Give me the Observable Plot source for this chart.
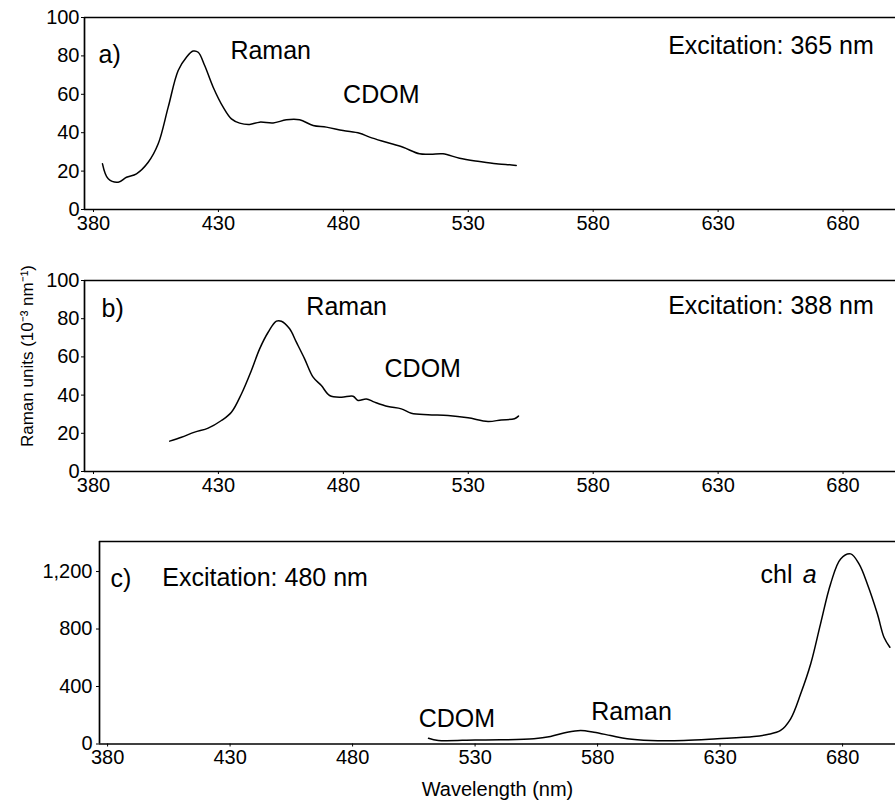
<!DOCTYPE html>
<html><head><meta charset="utf-8">
<script src="https://cdn.jsdelivr.net/npm/d3@7"></script>
<script src="https://cdn.jsdelivr.net/npm/@observablehq/plot@0.6"></script>
<style>body{margin:0;background:#fff} #chart svg{display:block}</style>
</head><body><div id="chart"></div>
<script>
// ---- data ----
const xTicks = [380, 430, 480, 530, 580, 630, 680];
const yTicksAB = [0, 20, 40, 60, 80, 100];
const yTicksC = [0, 400, 800, 1200];

// a) excitation 365 nm
const aWave = [383.6,385.9,389.9,393.2,397.2,401.9,405.9,409.9,413.9,417.2,419.9,421.9,424.5,427.9,431.9,435.2,438.5,442.5,446.5,451.9,457.2,462.5,467.9,473.2,479.9,486.5,490.5,497.2,503.9,510.5,515,519.9,526.5,534.5,541.2,545,549.2];
const aVal  = [23.8,16,14.2,16.8,18.6,24.6,34.2,53.3,72.4,79.3,82.5,81.9,75,63.7,53.3,47.2,45,44.3,45.5,45.1,46.7,46.7,43.8,42.9,41.1,39.7,37.7,35,32.4,29,28.8,29,26.7,25,23.8,23.5,22.9];

// b) excitation 388 nm
const bWave = [410.5,415.2,420.5,425.9,431.2,435.2,439.2,443.2,446.5,449.9,453.2,455.2,458.5,461.2,464.5,467.9,471.2,474.5,479.2,483.9,485.9,489.2,492.5,497.9,503.2,507.2,513.9,521.9,529.9,537.9,543.2,548.5,550.1];
const bVal  = [15.9,17.9,20.6,22.7,26.7,31,40.6,52.9,64.2,72.9,78.7,78.7,74.7,67.7,59,49.4,45,39.8,38.9,39.4,37.2,38,36.3,34,32.8,30.5,29.7,29.3,28.1,26.2,27,27.6,29];

// c) excitation 480 nm
const cWave = [511,515,530,540.4,554,560.8,567.6,573.1,578.5,585.3,592.1,601.6,615.2,628.9,643.8,649.3,654.7,658.8,662.9,667,671,675.1,679.2,683.3,686.7,690.1,694.2,696.9,699.3];
const cVal  = [40,25,28,29,36,52,82,94,82,59,36,24,24,36,52,66,94,175,349,558,836,1114,1288,1323,1253,1114,906,743,673];

// annotations
const aLabelText = ["a)", "Raman", "CDOM", "Excitation: 365 nm"];
const aLabelWave = [382, 434.8, 479.9, 610];
const aLabelVal  = [80.7, 82.5, 59.4, 84.9];
const bLabelText = ["b)", "Raman", "CDOM", "Excitation: 388 nm"];
const bLabelWave = [383.2, 465.2, 496.5, 610];
const bLabelVal  = [85.3, 86, 53.8, 86.4];
const cLabelText = ["c)", "Excitation: 480 nm", "chl", "Raman", "CDOM"];
const cLabelWave = [381.2, 402.3, 646.5, 577.4, 507];
const cLabelVal  = [1151, 1158, 1176, 226, 177];
const cItalicText = ["a"];
const cItalicWave = [663.7];
const cItalicVal = [1176];

const yTitle = "Raman units (10⁻³ nm⁻¹)";
const xTitle = "Wavelength (nm)";

// ---- drawing ----
const font = "'Liberation Sans', Arial, Helvetica, sans-serif";
const zip = (t, w, v) => t.map((s, i) => ({t: s, x: w[i], y: v[i]}));

function panel({wave, val, xDomain, yDomain, yTicks, tickFormat, yPad = 2, marginLeft, marginTop, marginBottom, height, labels, extra = []}) {
  const data = wave.map((w, i) => ({w, v: val[i]}));
  const line = {stroke: "black", strokeWidth: 1.7};
  return Plot.plot({
    width: 895, height, marginLeft, marginRight: 0, marginTop, marginBottom,
    x: {domain: xDomain},
    y: {domain: yDomain},
    style: {fontFamily: font, fontSize: "20px", color: "black", background: "white", overflow: "visible"},
    marks: [
      Plot.ruleY([yDomain[1]], line),
      Plot.ruleY([yDomain[0]], line),
      Plot.ruleX([xDomain[0]], line),
      Plot.axisX({ticks: xTicks, tickSize: 3, tickPadding: 3, label: null}),
      Plot.axisY({ticks: yTicks, tickFormat, tickSize: 3, tickPadding: yPad, label: null}),
      Plot.line(data, {x: "w", y: "v", stroke: "black", strokeWidth: 1.5, curve: "catmull-rom"}),
      Plot.text(labels, {x: "x", y: "y", text: "t", textAnchor: "start", fontSize: 25, fill: "black"}),
      ...extra
    ]
  });
}

const chart = document.getElementById("chart");

chart.append(panel({
  wave: aWave, val: aVal, xDomain: [376.4, 701], yDomain: [0, 100], yTicks: yTicksAB,
  tickFormat: d3.format("d"), marginLeft: 84, marginTop: 17, marginBottom: 41, height: 250,
  labels: zip(aLabelText, aLabelWave, aLabelVal)
}));

chart.append(panel({
  wave: bWave, val: bVal, xDomain: [376.4, 701], yDomain: [0, 100], yTicks: yTicksAB,
  tickFormat: d3.format("d"), marginLeft: 84, marginTop: 30, marginBottom: 39, height: 260,
  labels: zip(bLabelText, bLabelWave, bLabelVal),
  extra: [Plot.text([yTitle], {frameAnchor: "left", textAnchor: "middle", rotate: -90, dx: -57, dy: -20, fontSize: 17, fill: "black"})]
}));

chart.append(panel({
  wave: cWave, val: cVal, xDomain: [376.7, 701.6], yDomain: [0, 1409], yTicks: yTicksC,
  tickFormat: d3.format(","), yPad: 4, marginLeft: 99, marginTop: 31, marginBottom: 57.5, height: 291,
  labels: zip(cLabelText, cLabelWave, cLabelVal),
  extra: [
    Plot.text(zip(cItalicText, cItalicWave, cItalicVal), {x: "x", y: "y", text: "t", textAnchor: "start", fontSize: 25, fontStyle: "italic", fill: "black"}),
    Plot.text([xTitle], {frameAnchor: "bottom", dy: 52, fontSize: 20, fill: "black"})
  ]
}));
</script></body></html>
